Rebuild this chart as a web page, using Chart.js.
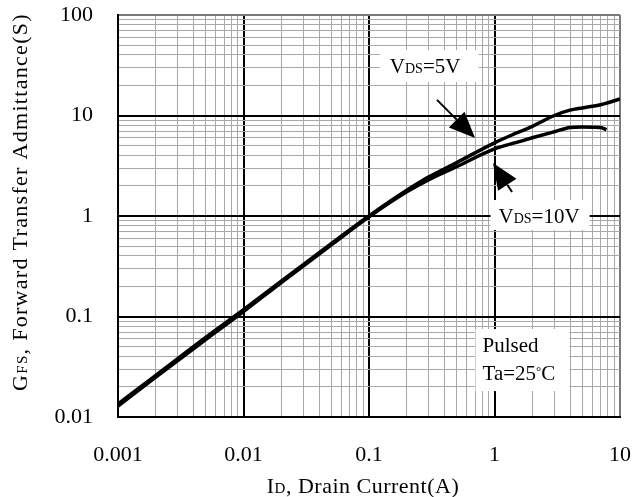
<!DOCTYPE html>
<html>
<head>
<meta charset="utf-8">
<script src="https://cdn.jsdelivr.net/npm/chart.js@4.4.0/dist/chart.umd.min.js"></script>
<style>
  html, body { margin: 0; padding: 0; background: #fff; }
  canvas { display: block; }
</style>
</head>
<body>
<canvas id="myChart" width="632" height="497"></canvas>
<script>
// drain current (A) and forward transfer admittance (S)
const current5 = [0.001, 0.002, 0.005, 0.01, 0.02, 0.05, 0.1, 0.2, 0.3, 0.5, 1, 1.5, 2, 3, 4, 5, 7, 8, 10];
const gfs5     = [0.0135, 0.026, 0.062, 0.117, 0.225, 0.53, 1.0, 1.8, 2.45, 3.4, 5.35, 6.7, 7.8, 10.0, 11.3, 11.9, 12.8, 13.4, 14.6];
const current10 = [0.001, 0.002, 0.005, 0.01, 0.02, 0.05, 0.1, 0.2, 0.3, 0.5, 1, 1.5, 2, 3, 4, 5, 7, 7.8];
const gfs10     = [0.0128, 0.025, 0.059, 0.112, 0.218, 0.515, 0.98, 1.74, 2.3, 3.1, 4.65, 5.4, 6.0, 6.9, 7.6, 7.7, 7.6, 7.2];

const xTicks = [0.001, 0.01, 0.1, 1, 10];
const yTicks = [0.01, 0.1, 1, 10, 100];

const FONT = '"Liberation Serif", "Times New Roman", serif';

function withMinors(majors) {
  const out = [];
  for (let i = 0; i < majors.length - 1; i++) {
    for (let m = 1; m < 10; m++) out.push(majors[i] * m);
  }
  out.push(majors[majors.length - 1]);
  return out.map(v => ({ value: v }));
}
function isMajor(v, majors) {
  return majors.some(m => Math.abs(v / m - 1) < 1e-6);
}

function gridColor(majors, edge) {
  return ctx => {
    const v = ctx.tick ? ctx.tick.value : 0;
    if (!isMajor(v, majors)) return '#a8a8a8';
    if (Math.abs(v / edge - 1) < 1e-6) return '#7a7a7a';
    return '#000';
  };
}

// draw a line of text made of [string, size, rise] runs
function drawRuns(c, runs, x, y) {
  let cx = x;
  runs.forEach(r => {
    c.font = r[1] + 'px ' + FONT;
    c.fillText(r[0], cx, y - (r[2] || 0));
    cx += c.measureText(r[0]).width;
  });
  return cx - x;
}
function runsWidth(c, runs) {
  let w = 0;
  runs.forEach(r => { c.font = r[1] + 'px ' + FONT; w += c.measureText(r[0]).width; });
  return w;
}

const textPlugin = {
  id: 'textPlugin',
  afterDraw(chart) {
    const c = chart.ctx;
    const xs = chart.scales.x, ys = chart.scales.y;
    const px = v => xs.getPixelForValue(v);
    const py = v => ys.getPixelForValue(v);
    c.save();
    c.fillStyle = '#000';
    c.textBaseline = 'alphabetic';
    c.textAlign = 'left';

    // labelled boxes
    const boxes = [
      { x: 0.122, y: 31, lines: [[['V', 21], ['DS', 14], ['=5V', 21]]], l: 10, r: 18, h: 32 },
      { x: 0.93, y: 1.0, lines: [[['V', 21], ['DS', 14], ['=10V', 21]]], l: 8, r: 10, h: 30 },
      { x: 0.706, y: 0.052, lines: [[['Pulsed', 21]], [['Ta=25', 21], ['°', 13, 5], ['C', 21]]], l: 7, r: 14, h: 28 }
    ];
    boxes.forEach(b => {
      const x0 = px(b.x), yc = py(b.y);
      let w = 0;
      b.lines.forEach(ln => { w = Math.max(w, runsWidth(c, ln)); });
      const top = yc - 16;
      c.fillStyle = '#fff';
      c.fillRect(x0, top, b.l + w + b.r, b.h * b.lines.length + (b.lines.length > 1 ? 6 : 0));
      c.fillStyle = '#000';
      b.lines.forEach((ln, i) => drawRuns(c, ln, x0 + b.l, yc + 7 + i * 28));
    });

    // arrows
    const arrows = [
      [0.348, 14.3, 0.70, 5.97],
      [1.38, 1.73, 0.973, 3.37]
    ];
    arrows.forEach(a => {
      const x1 = px(a[0]), y1 = py(a[1]), x2 = px(a[2]), y2 = py(a[3]);
      const ang = Math.atan2(y2 - y1, x2 - x1);
      const hl = 26, hw = 11;
      const bx = x2 - hl * Math.cos(ang), by = y2 - hl * Math.sin(ang);
      c.strokeStyle = '#000';
      c.lineWidth = 2;
      c.beginPath();
      c.moveTo(x1, y1);
      c.lineTo(bx, by);
      c.stroke();
      c.beginPath();
      c.moveTo(x2, y2);
      c.lineTo(bx + hw * Math.sin(ang), by - hw * Math.cos(ang));
      c.lineTo(bx - hw * Math.sin(ang), by + hw * Math.cos(ang));
      c.closePath();
      c.fill();
    });

    // axis titles
    const area = chart.chartArea;
    c.letterSpacing = '0.5px';
    const xt = [['I', 22], ['D', 15], [', Drain Current(A)', 22]];
    const xw = runsWidth(c, xt);
    drawRuns(c, xt, (area.left + area.right) / 2 - 6 - xw / 2, 493);

    c.letterSpacing = '1.3px';
    const yt = [['G', 22], ['FS', 15], [', Forward Transfer Admittance(S)', 22]];
    c.save();
    c.translate(27, 202);
    c.rotate(-Math.PI / 2);
    const yw = runsWidth(c, yt);
    drawRuns(c, yt, -yw / 2, 0);
    c.restore();
    c.letterSpacing = '0px';

    c.restore();
  }
};

const ctx = document.getElementById('myChart').getContext('2d');
const myChart = new Chart(ctx, {
  type: 'line',
  data: {
    datasets: [
      {
        label: 'VDS=5V',
        data: current5.map((x, i) => ({ x: x, y: gfs5[i] })),
        borderColor: '#000',
        borderWidth: 3.5,
        pointRadius: 0,
        fill: false,
        cubicInterpolationMode: 'monotone'
      },
      {
        label: 'VDS=10V',
        data: current10.map((x, i) => ({ x: x, y: gfs10[i] })),
        borderColor: '#000',
        borderWidth: 3.5,
        pointRadius: 0,
        fill: false,
        cubicInterpolationMode: 'monotone'
      }
    ]
  },
  options: {
    responsive: false,
    animation: false,
    devicePixelRatio: 1,
    layout: { padding: { top: 15, right: 12, left: 0, bottom: 0 } },
    plugins: { legend: { display: false }, tooltip: { enabled: false } },
    scales: {
      x: {
        type: 'logarithmic',
        min: 0.001,
        max: 10,
        afterBuildTicks: s => { s.ticks = withMinors(xTicks); },
        afterFit: s => { s.height = 80; s.paddingLeft = 0; s.paddingRight = 0; },
        ticks: {
          autoSkip: false,
          maxRotation: 0,
          padding: 25,
          color: '#000',
          font: { family: FONT, size: 22 },
          callback: v => isMajor(v, xTicks) ? String(v) : ''
        },
        grid: {
          drawTicks: false,
          color: gridColor(xTicks, 10),
          lineWidth: c => isMajor(c.tick ? c.tick.value : 0, xTicks) ? 2 : 1
        },
        border: { color: '#000', width: 2 }
      },
      y: {
        type: 'logarithmic',
        min: 0.01,
        max: 100,
        afterBuildTicks: s => { s.ticks = withMinors(yTicks); },
        afterFit: s => { s.width = 118; s.paddingTop = 0; s.paddingBottom = 0; },
        ticks: {
          autoSkip: false,
          padding: 25,
          color: '#000',
          font: { family: FONT, size: 22 },
          callback: v => isMajor(v, yTicks) ? String(v) : ''
        },
        grid: {
          drawTicks: false,
          color: gridColor(yTicks, 100),
          lineWidth: c => isMajor(c.tick ? c.tick.value : 0, yTicks) ? 2 : 1
        },
        border: { color: '#000', width: 2 }
      }
    }
  },
  plugins: [textPlugin]
});
</script>
</body>
</html>
